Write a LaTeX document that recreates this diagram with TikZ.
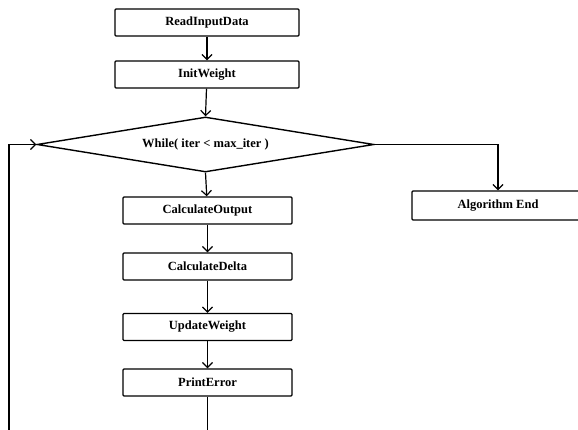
\documentclass[tikz,border=0pt]{standalone}
\usepackage{fontspec}
\setmainfont{Liberation Serif}
\usetikzlibrary{shapes.geometric,arrows.meta}
\begin{document}
\begin{tikzpicture}[x=1pt,y=-1pt,
  procbox/.style={draw, line width=1.4pt, rounded corners=1pt, inner sep=0pt,
    minimum width=184pt, minimum height=27pt, font=\fontsize{12.5}{14}\selectfont\bfseries},
  smallbox/.style={procbox, minimum width=169pt},
  decbox/.style={draw, line width=1.4pt, shape=diamond, inner sep=0pt, aspect=6,
    minimum width=337pt, minimum height=55pt, font=\fontsize{12.5}{14}\selectfont\bfseries},
  flow/.style={line width=1.2pt, -{Straight Barb[length=5pt,width=10pt,line width=1.2pt]}},
  plain/.style={line width=1.2pt}]
\useasboundingbox (0,0) rectangle (578,430);
\node[procbox] (read) at (207,22.5) {ReadInputData};
\node[procbox] (init) at (207,74.5) {InitWeight};
\node[decbox] (dia) at (205.5,144.5) {While( iter < max\_iter )};
\node[smallbox] (out) at (207.5,210.5) {CalculateOutput};
\node[smallbox] (delta) at (207.5,266.5) {CalculateDelta};
\node[smallbox] (upd) at (207.5,327) {UpdateWeight};
\node[smallbox] (perr) at (207.5,382.5) {PrintError};
\node[procbox, minimum width=172pt, minimum height=29pt] (aend) at (498,205.5) {Algorithm End};
\coordinate (lb) at (9,450);
\draw[flow] (read) -- (init);
\draw[flow] (init) -- (dia.north);
\draw[flow] (dia.south) -- (out);
\draw[flow] (out) -- (delta);
\draw[flow] (delta) -- (upd);
\draw[flow] (upd) -- (perr);
\draw[flow] (dia.east) -| (aend.north);
\draw[flow] (perr.south) -- (perr.south |- lb) -- (lb) |- (dia.west);
\end{tikzpicture}
\end{document}
